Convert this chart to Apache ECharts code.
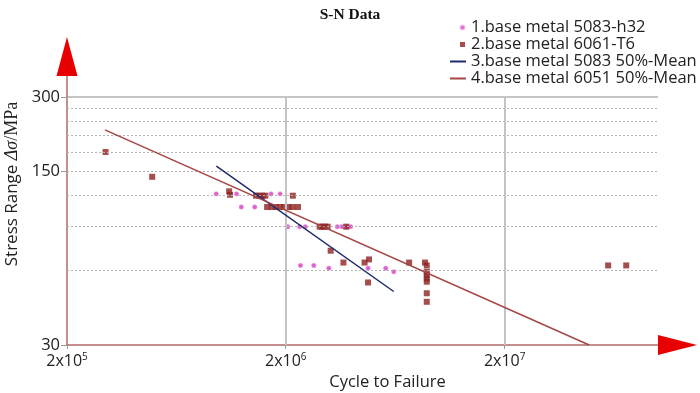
<!DOCTYPE html>
<html><head><meta charset="utf-8">
<script src="https://cdn.jsdelivr.net/npm/echarts@6/dist/echarts.min.js"></script>
<style>html,body{margin:0;padding:0;background:#fff}#c{width:700px;height:393px}</style>
</head><body><div id="c"></div>
<script>
// ---------- data ----------
const titleText = 'S-N Data';
const seriesNames = ['1.base metal 5083-h32', '2.base metal 6061-T6', '3.base metal 5083 50%-Mean', '4.base metal 6051 50%-Mean'];
const xAxisMin = 2e5, xAxisMax = 1e8;
const yAxisMin = 30, yAxisMax = 300;
const yDashedGrid = [60, 90, 120, 150, 180, 210, 240, 270];
const xSolidGrid = [2e6, 2e7];

// 1. base metal 5083-h32 (dots)
const al5083N = [9.6e5, 1.19e6, 1.71e6, 1.88e6, 1.25e6, 1.44e6, 2.04e6, 2.31e6, 2.45e6, 3.43e6, 3.6e6, 3.8e6, 3.95e6, 2.33e6, 2.68e6, 3.14e6, 4.74e6, 5.71e6, 6.21e6];
const al5083S = [122, 122, 122, 122, 108, 108, 90, 90, 90, 90, 90, 90, 90, 62.8, 62.8, 61.2, 61.2, 61.2, 59.2];

// 2. base metal 6061-T6 (squares)
const al6061N = [3.0e5, 4.9e5, 1.10e6, 1.11e6, 1.46e6, 1.51e6, 1.56e6, 1.61e6, 2.15e6,
  1.64e6, 1.72e6, 1.80e6, 1.88e6, 1.96e6, 2.05e6, 2.14e6, 2.27e6,
  2.85e6, 2.93e6, 3.01e6, 3.10e6, 3.77e6,
  3.2e6, 3.66e6, 4.57e6, 4.79e6, 4.74e6, 7.3e6,
  8.63e6, 8.79e6, 8.79e6, 8.79e6, 8.79e6, 8.79e6, 8.79e6, 8.79e6,
  5.92e7, 7.16e7];
const al6061S = [180, 143, 125, 121, 120, 120, 120, 120, 120,
  108, 108, 108, 108, 108, 108, 108, 108,
  90, 90, 90, 90, 90,
  72, 64.5, 64.5, 66.4, 53.6, 64.5,
  64.5, 62.8, 59.2, 57.4, 55.6, 54, 48.5, 44.8,
  62.8, 62.8];

// 3. 5083 50%-Mean line
const mean5083N = [9.62e5, 6.21e6];
const mean5083S = [158, 49.3];
// 4. 6051 50%-Mean line
const mean6051N = [2.98e5, 4.85e7];
const mean6051S = [221, 30];

// ---------- chart ----------
const zip = (a, b) => a.map((v, i) => [v, b[i]]);
const chart = echarts.init(document.getElementById('c'), null, {renderer: 'canvas'});
const axisColor = '#b06a6a';
const sans = '"Open Sans", "Noto Sans", sans-serif';
const serif = '"Liberation Serif", "DejaVu Serif", serif';

const option = {
  animation: false,
  backgroundColor: '#fff',
  title: {
    text: titleText, left: 'center', top: 2,
    textStyle: {fontFamily: serif, fontWeight: 'bold', fontSize: 15.5, color: '#111'}
  },
  legend: {
    orient: 'vertical', left: 444, top: 14, itemGap: 0, itemWidth: 16, itemHeight: 10,
    textStyle: {fontFamily: sans, fontSize: 16.5, color: '#222', lineHeight: 16.5},
    data: [
      {name: seriesNames[0], icon: 'path://M0,0M16,10M10.5,5a2,2 0 1,0 4,0a2,2 0 1,0 -4,0z'},
      {name: seriesNames[1], icon: 'path://M0,0M16,10M10,2.5h5v5h-5z'},
      {name: seriesNames[2], icon: 'path://M0,4h16v2h-16z'},
      {name: seriesNames[3], icon: 'path://M0,4h16v2h-16z'}
    ]
  },
  grid: {left: 67, right: 42, top: 97, bottom: 48, containLabel: false, outerBoundsMode: 'none'},
  xAxis: {
    type: 'log', min: xAxisMin, max: xAxisMax, interval: 1,
    name: 'Cycle to Failure', nameLocation: 'middle', nameGap: 26,
    nameTextStyle: {fontFamily: sans, fontSize: 16.5, color: '#222', padding: [0, 0, 0, 50]},
    axisLine: {show: true, lineStyle: {color: axisColor, width: 1.5}},
    axisTick: {show: true, length: 4, lineStyle: {color: '#999'}},
    splitLine: {show: false},
    minorTick: {show: false},
    axisLabel: {
      margin: 7, color: '#222',
      formatter: function (v) {
        if (v > 5e7) return '';
        const e = Math.round(Math.log10(v / 2));
        return '{n|2x10}{s|' + e + '}';
      },
      rich: {
        n: {fontFamily: sans, fontSize: 16, color: '#222'},
        s: {fontFamily: sans, fontSize: 10, color: '#222', padding: [0, 0, 8, 0]}
      }
    }
  },
  yAxis: {
    type: 'log', min: yAxisMin, max: yAxisMax, interval: Math.log10(5),
    name: '{a|Stress Range }{b|Δσ}{c|/MPa}', nameLocation: 'middle', nameGap: 46, nameRotate: 90,
    nameTextStyle: {
      padding: [0, 0, 0, 74],
      rich: {
        a: {fontFamily: sans, fontSize: 17, color: '#222'},
        b: {fontFamily: serif, fontStyle: 'italic', fontSize: 18, color: '#222'},
        c: {fontFamily: serif, fontSize: 18, color: '#222'}
      }
    },
    axisLine: {show: true, lineStyle: {color: axisColor, width: 1.5}},
    axisTick: {show: true, length: 6, lineStyle: {color: '#999'}},
    splitLine: {show: false},
    minorTick: {show: false},
    axisLabel: {
      margin: 7, fontFamily: sans, fontSize: 16.5, color: '#222',
      formatter: v => String(Math.round(v))
    }
  },
  series: [
    {
      type: 'scatter', data: [], z: 1, silent: true,
      markLine: {
        silent: true, symbol: ['none', 'none'], label: {show: false}, animation: false,
        lineStyle: {color: '#b4b4b4', type: [2, 2], width: 1},
        data: [
          ...yDashedGrid.map(v => ({yAxis: v})),
          {yAxis: yAxisMax, lineStyle: {type: 'solid', color: '#c4c4c4', width: 2}},
          ...xSolidGrid.map(v => ({xAxis: v, lineStyle: {type: 'solid', color: '#c4c4c4', width: 2}}))
        ]
      }
    },
    {
      name: seriesNames[0], type: 'scatter', symbol: 'circle', symbolSize: 4.5,
      itemStyle: {color: '#d03cc0', borderColor: 'rgba(235,150,225,0.7)', borderWidth: 1},
      data: zip(al5083N, al5083S), z: 3
    },
    {
      name: seriesNames[1], type: 'scatter', symbol: 'rect', symbolSize: 6,
      itemStyle: {color: '#8f2222'},
      data: zip(al6061N, al6061S), z: 4
    },
    {
      name: seriesNames[2], type: 'line', symbol: 'none', showSymbol: false,
      lineStyle: {color: '#1d2a6c', width: 1.5}, itemStyle: {color: '#1d2a6c'},
      data: zip(mean5083N, mean5083S), z: 5
    },
    {
      name: seriesNames[3], type: 'line', symbol: 'none', showSymbol: false,
      lineStyle: {color: '#a54545', width: 1.5}, itemStyle: {color: '#a54545'},
      data: zip(mean6051N, mean6051S), z: 5
    }
  ]
};
chart.setOption(option);

// Axis arrows, anchored to the axis ends
const tl = chart.convertToPixel({gridIndex: 0}, [xAxisMin, yAxisMax]);
const br = chart.convertToPixel({gridIndex: 0}, [xAxisMax, yAxisMin]);
chart.setOption({
  graphic: [
    {type: 'line', shape: {x1: tl[0], y1: tl[1], x2: tl[0], y2: tl[1] - 21}, style: {stroke: axisColor, lineWidth: 1.5}, z: 10},
    {type: 'polygon', shape: {points: [[tl[0] - 10.5, tl[1] - 21], [tl[0] + 10.5, tl[1] - 21], [tl[0], tl[1] - 60]]}, style: {fill: '#e80000'}, z: 10},
    {type: 'polygon', shape: {points: [[br[0], br[1] - 10], [br[0], br[1] + 10], [br[0] + 39, br[1]]]}, style: {fill: '#e80000'}, z: 10}
  ]
});
</script>
</body></html>
